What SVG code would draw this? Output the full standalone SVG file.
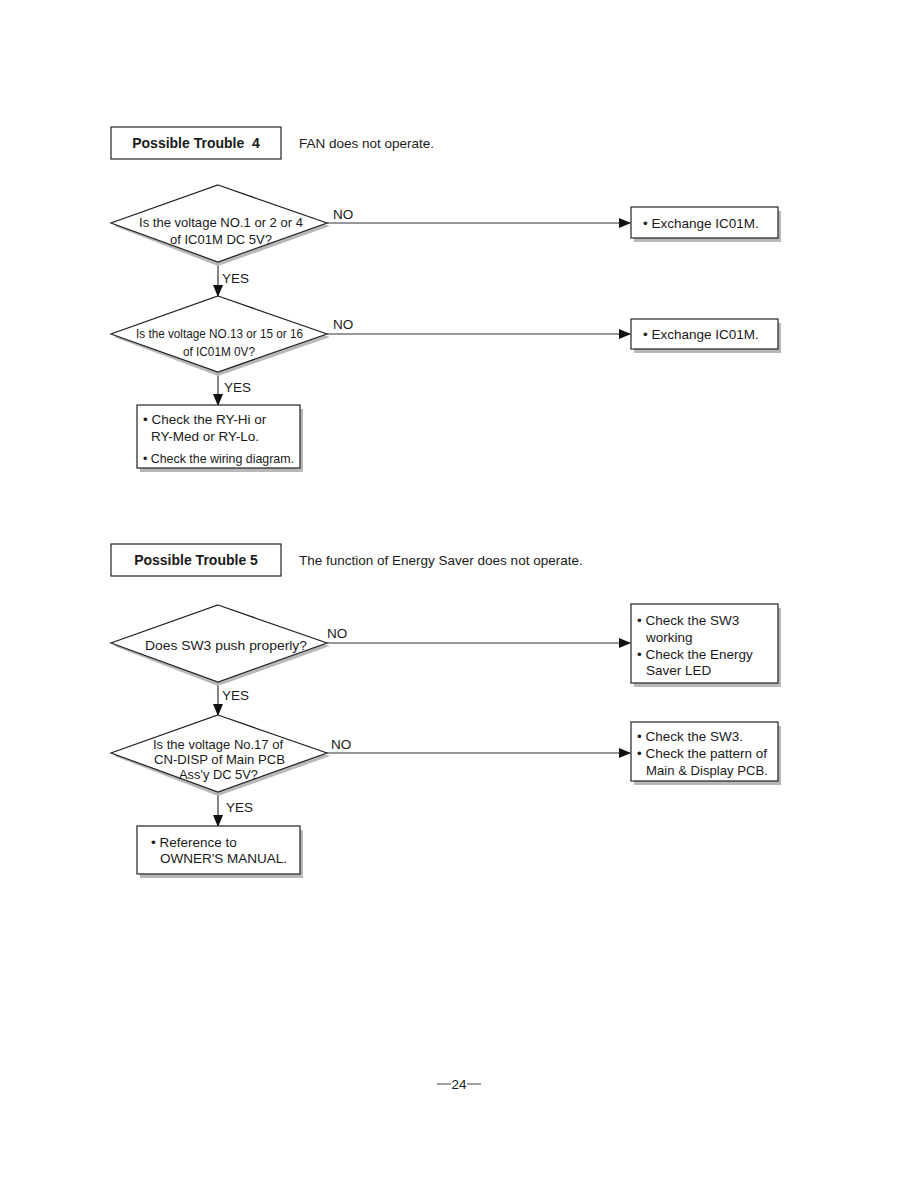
<svg xmlns="http://www.w3.org/2000/svg" width="918" height="1188" viewBox="0 0 918 1188">
<style>
text{font-family:"Liberation Sans",Arial,sans-serif;font-size:13.5px;fill:#1a1a1a}
.b{font-weight:bold;font-size:14px}
.sh{fill:#b8b8b8;stroke:none}
.n{fill:#fff;stroke:#222;stroke-width:1.2}
.c{stroke:#333;stroke-width:1.2;fill:none}
</style>
<defs>
<marker id="ah" markerWidth="12" markerHeight="10" refX="11" refY="5" orient="auto" markerUnits="userSpaceOnUse">
<path d="M0,0 L12,5 L0,10 z" fill="#111"/>
</marker>
</defs>
<rect width="918" height="1188" fill="#fff"/>

<g id="title4">
<rect x="111" y="127" width="170" height="32" fill="#fff" stroke="#222" stroke-width="1.2"/>
<text class="b" x="196" y="148" text-anchor="middle" xml:space="preserve">Possible Trouble  4</text>
<text x="299" y="148">FAN does not operate.</text>
</g>

<g id="connectors">
<line class="c" x1="327" y1="223" x2="630" y2="223" marker-end="url(#ah)"/>
<line class="c" x1="218" y1="262" x2="218" y2="296" marker-end="url(#ah)"/>
<line class="c" x1="327" y1="334" x2="630" y2="334" marker-end="url(#ah)"/>
<line class="c" x1="218" y1="372" x2="218" y2="405" marker-end="url(#ah)"/>
<line class="c" x1="327" y1="643" x2="630" y2="643" marker-end="url(#ah)"/>
<line class="c" x1="218" y1="682" x2="218" y2="715" marker-end="url(#ah)"/>
<line class="c" x1="327" y1="753" x2="630" y2="753" marker-end="url(#ah)"/>
<line class="c" x1="218" y1="792" x2="218" y2="826" marker-end="url(#ah)"/>
<text x="333" y="219">NO</text>
<text x="222" y="283">YES</text>
<text x="333" y="329">NO</text>
<text x="224" y="392">YES</text>
<text x="327" y="638">NO</text>
<text x="222" y="700">YES</text>
<text x="331" y="749">NO</text>
<text x="226" y="812">YES</text>
</g>

<g id="d1">
<polygon class="sh" points="218,189 330,226 218,266 114,226"/>
<polygon class="n" points="218,185 327,223 218,262 111,223"/>
<text x="139" y="227" textLength="164" lengthAdjust="spacingAndGlyphs">Is the voltage NO.1 or 2 or 4</text>
<text x="170" y="244" textLength="102" lengthAdjust="spacingAndGlyphs">of IC01M DC 5V?</text>
</g>

<g id="r1">
<rect class="sh" x="634" y="211" width="147" height="31"/>
<rect class="n" x="631" y="207" width="147" height="31"/>
<text x="643" y="228">• Exchange IC01M.</text>
</g>

<g id="d2">
<polygon class="sh" points="218,300 330,337 218,376 114,337"/>
<polygon class="n" points="218,296 327,334 218,372 111,334"/>
<text x="136" y="338" textLength="167" lengthAdjust="spacingAndGlyphs">Is the voltage NO.13 or 15 or 16</text>
<text x="183" y="356" textLength="72" lengthAdjust="spacingAndGlyphs">of IC01M 0V?</text>
</g>

<g id="r2">
<rect class="sh" x="634" y="323" width="147" height="30"/>
<rect class="n" x="631" y="319" width="147" height="30"/>
<text x="643" y="339">• Exchange IC01M.</text>
</g>

<g id="b1">
<rect class="sh" x="140" y="409" width="163" height="63"/>
<rect class="n" x="137" y="405" width="163" height="63"/>
<text x="143" y="424">• Check the RY-Hi or</text>
<text x="151" y="441">RY-Med or RY-Lo.</text>
<text x="143" y="463" textLength="151" lengthAdjust="spacingAndGlyphs">• Check the wiring diagram.</text>
</g>

<g id="title5">
<rect x="111" y="544" width="170" height="32" fill="#fff" stroke="#222" stroke-width="1.2"/>
<text class="b" x="196" y="565" text-anchor="middle">Possible Trouble 5</text>
<text x="299" y="565">The function of Energy Saver does not operate.</text>
</g>

<g id="d3">
<polygon class="sh" points="218,609 330,646 218,686 114,646"/>
<polygon class="n" points="218,605 327,643 218,682 111,643"/>
<text x="145" y="650" textLength="162" lengthAdjust="spacingAndGlyphs">Does SW3 push properly?</text>
</g>

<g id="r3">
<rect class="sh" x="634" y="608" width="147" height="79"/>
<rect class="n" x="631" y="604" width="147" height="79"/>
<text x="637" y="625">• Check the SW3</text>
<text x="646" y="642">working</text>
<text x="637" y="659">• Check the Energy</text>
<text x="646" y="675">Saver LED</text>
</g>

<g id="d4">
<polygon class="sh" points="218,719 330,756 218,796 114,756"/>
<polygon class="n" points="218,715 327,753 218,792 111,753"/>
<text x="153" y="749" textLength="130" lengthAdjust="spacingAndGlyphs">Is the voltage No.17 of</text>
<text x="154" y="764" textLength="131" lengthAdjust="spacingAndGlyphs">CN-DISP of Main PCB</text>
<text x="179" y="779" textLength="79" lengthAdjust="spacingAndGlyphs">Ass'y DC 5V?</text>
</g>

<g id="r4">
<rect class="sh" x="634" y="726" width="147" height="59"/>
<rect class="n" x="631" y="722" width="147" height="59"/>
<text x="637" y="741">• Check the SW3.</text>
<text x="637" y="758">• Check the pattern of</text>
<text x="646" y="775" textLength="122" lengthAdjust="spacingAndGlyphs">Main &amp; Display PCB.</text>
</g>

<g id="b2">
<rect class="sh" x="140" y="830" width="163" height="48"/>
<rect class="n" x="137" y="826" width="163" height="48"/>
<text x="151" y="847">• Reference to</text>
<text x="160" y="863">OWNER'S MANUAL.</text>
</g>

<g id="page">
<line x1="437" y1="1084" x2="451" y2="1084" stroke="#444" stroke-width="1"/>
<line x1="467" y1="1084" x2="481" y2="1084" stroke="#444" stroke-width="1"/>
<text x="459" y="1089" text-anchor="middle">24</text>
</g>
</svg>
